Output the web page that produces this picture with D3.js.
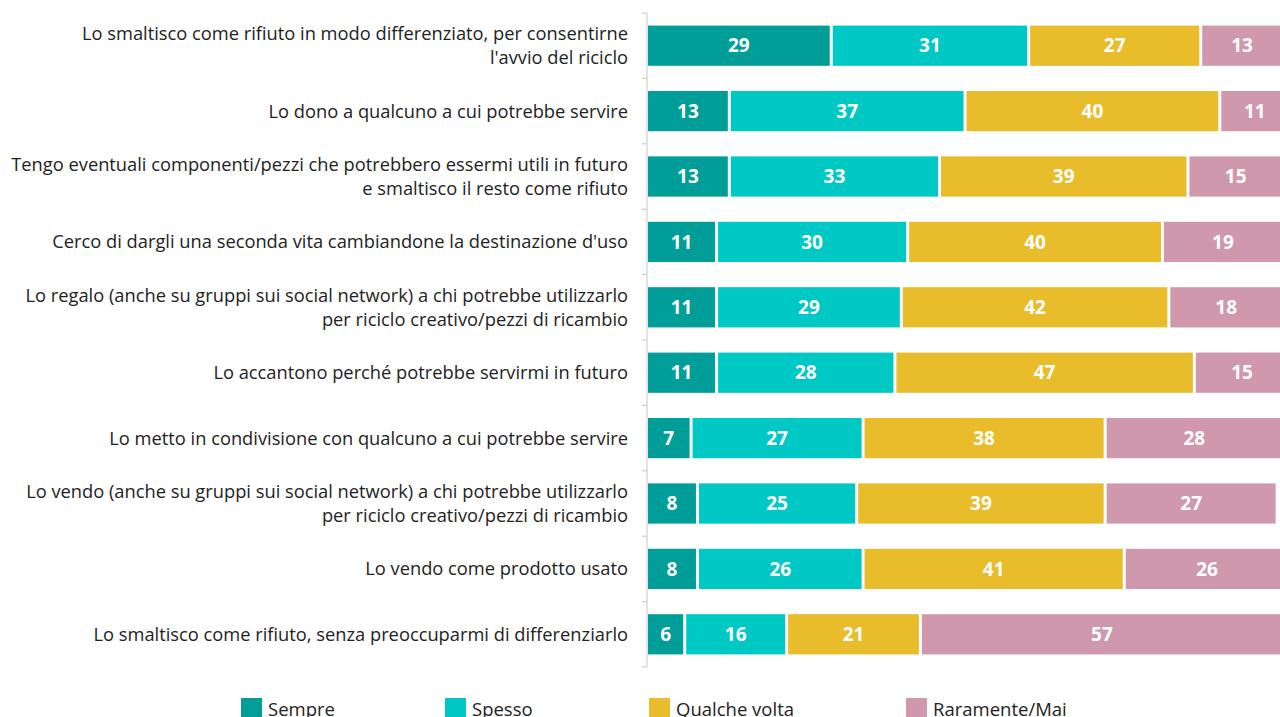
<!DOCTYPE html>
<html>
<head>
<meta charset="utf-8">
<script src="https://cdn.jsdelivr.net/npm/d3@7"></script>
<style>
  body { margin: 0; background: #fff; overflow: hidden; }
  text { font-family: "Open Sans", "Noto Sans", sans-serif; }
</style>
</head>
<body>
<div id="chart"></div>
<script>
// categories (line breaks as in the reference)
let categories = [
    "Lo smaltisco come rifiuto in modo differenziato, per consentirne\nl'avvio del riciclo",
    "Lo dono a qualcuno a cui potrebbe servire",
    "Tengo eventuali componenti/pezzi che potrebbero essermi utili in futuro\ne smaltisco il resto come rifiuto",
    "Cerco di dargli una seconda vita cambiandone la destinazione d'uso",
    "Lo regalo (anche su gruppi sui social network) a chi potrebbe utilizzarlo\nper riciclo creativo/pezzi di ricambio",
    "Lo accantono perché potrebbe servirmi in futuro",
    "Lo metto in condivisione con qualcuno a cui potrebbe servire",
    "Lo vendo (anche su gruppi sui social network) a chi potrebbe utilizzarlo\nper riciclo creativo/pezzi di ricambio",
    "Lo vendo come prodotto usato",
    "Lo smaltisco come rifiuto, senza preoccuparmi di differenziarlo"
];

let seriesNames = ['Sempre', 'Spesso', 'Qualche volta', 'Raramente/Mai'];

let sempre      = [29, 13, 13, 11, 11, 11, 7, 8, 8, 6];
let spesso      = [31, 37, 33, 30, 29, 28, 27, 25, 26, 16];
let qualche     = [27, 40, 39, 40, 42, 47, 38, 39, 41, 21];
let raramente   = [13, 11, 15, 19, 18, 15, 28, 27, 26, 57];

let colors = ['#009d99', '#00c8c4', '#e8bc2a', '#d098ad'];

// build rows for d3.stack
let rows = categories.map(function (c, i) {
    return {
        cat: c,
        'Sempre': sempre[i],
        'Spesso': spesso[i],
        'Qualche volta': qualche[i],
        'Raramente/Mai': raramente[i]
    };
});

let width = 1280, height = 717;

let svg = d3.select('#chart').append('svg')
    .attr('width', width)
    .attr('height', height);

let x = d3.scaleLinear()
    .domain([0, 100])
    .range([647, 1284]);

let y = d3.scaleBand()
    .domain(categories)
    .range([13, 667])
    .paddingInner(0.385)
    .paddingOuter(0.1925);

let color = d3.scaleOrdinal()
    .domain(seriesNames)
    .range(colors);

let stacked = d3.stack().keys(seriesNames)(rows);

// axis line + ticks at band boundaries
let step = y.step();
svg.append('line')
    .attr('x1', 647).attr('x2', 647)
    .attr('y1', y.range()[0]).attr('y2', y.range()[1])
    .attr('stroke', '#d0d0d0')
    .attr('stroke-width', 1.2);

d3.range(categories.length + 1).forEach(function (i) {
    let yy = y.range()[0] + i * step;
    svg.append('line')
        .attr('x1', 642).attr('x2', 647)
        .attr('y1', yy).attr('y2', yy)
        .attr('stroke', '#d0d0d0')
        .attr('stroke-width', 1.2);
});

// category labels
let labels = svg.append('g').selectAll('text')
    .data(categories)
    .enter().append('text')
    .attr('x', 628)
    .attr('text-anchor', 'end')
    .attr('fill', '#222')
    .style('font-size', '18.3px');

labels.each(function (d) {
    let lines = d.split('\n');
    let cy = y(d) + y.bandwidth() / 2;
    let lh = 24;
    let t = d3.select(this);
    lines.forEach(function (line, j) {
        t.append('tspan')
            .attr('x', 628)
            .attr('y', cy + (j - (lines.length - 1) / 2) * lh)
            .attr('dy', '0.35em')
            .text(line);
    });
});

// bars
let groups = svg.append('g').selectAll('g')
    .data(stacked)
    .enter().append('g')
    .attr('fill', function (d) { return color(d.key); });

groups.selectAll('rect')
    .data(function (d) { return d; })
    .enter().append('rect')
    .attr('x', function (d) { return x(d[0]) + 1; })
    .attr('y', function (d) { return y(d.data.cat); })
    .attr('width', function (d) { return x(d[1]) - x(d[0]) - 3; })
    .attr('height', y.bandwidth());

groups.selectAll('text')
    .data(function (d) { return d; })
    .enter().append('text')
    .attr('x', function (d) { return (x(d[0]) + 1 + x(d[1]) - 2) / 2; })
    .attr('y', function (d) { return y(d.data.cat) + y.bandwidth() / 2; })
    .attr('dy', '0.35em')
    .attr('text-anchor', 'middle')
    .attr('fill', '#fff')
    .style('font-size', '19px')
    .style('font-weight', 'bold')
    .text(function (d) { return d[1] - d[0]; });

// legend
let legendX = [241, 445, 649, 906];
let legend = svg.append('g').selectAll('g')
    .data(seriesNames)
    .enter().append('g')
    .attr('transform', function (d, i) { return `translate(${legendX[i]},698)`; });

legend.append('rect')
    .attr('width', 21)
    .attr('height', 21)
    .attr('fill', function (d) { return color(d); });

legend.append('text')
    .attr('x', 27)
    .attr('y', 18)
    .attr('fill', '#222')
    .style('font-size', '18.5px')
    .text(function (d) { return d; });
</script>
</body>
</html>
